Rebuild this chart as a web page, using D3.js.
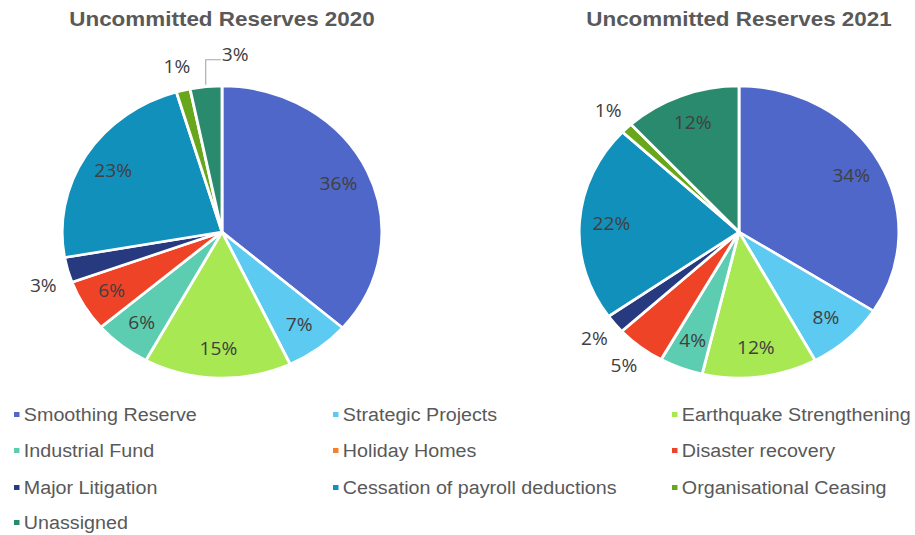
<!DOCTYPE html>
<html>
<head>
<meta charset="utf-8">
<script src="https://cdn.jsdelivr.net/npm/d3@7"></script>
<style>
  html, body { margin: 0; padding: 0; background: #fff; }
  svg { display: block; }
</style>
</head>
<body>
<div id="chart"></div>
<script>
const categories = [
  "Smoothing Reserve", "Strategic Projects", "Earthquake Strengthening",
  "Industrial Fund", "Holiday Homes", "Disaster recovery",
  "Major Litigation", "Cessation of payroll deductions", "Organisational Ceasing",
  "Unassigned"
];
const colors = ["#4f67c8", "#5ccaf1", "#a8e853", "#5dcdb1", "#f5802a", "#ee4326",
                "#273a80", "#1190bc", "#68a61c", "#2a8a6e"];

const values2020 = [36.4, 6.6, 14.9, 5.8, 0, 5.7, 2.8, 23.2, 1.4, 3.2];
const values2021 = [34.1, 8.0, 11.6, 4.4, 0, 5.0, 2.1, 21.8, 1.2, 11.8];

const titles = ["Uncommitted Reserves 2020", "Uncommitted Reserves 2021"];

// which slice labels sit outside the pie
const outside2020 = ["Major Litigation", "Organisational Ceasing", "Unassigned"];
const outside2021 = ["Disaster recovery", "Major Litigation", "Organisational Ceasing"];

const W = 915, H = 535;
const sx = 1.095;              // the picture is a bit wider than tall

const svg = d3.select("#chart").append("svg").attr("width", W).attr("height", H);
const root = svg.append("g").attr("transform", `scale(${sx},1)`);

const R = 146;
const arc = d3.arc().innerRadius(0).outerRadius(R);
const pie = d3.pie().sort(null).value(d => d.v);

function drawPie(cx, title, values, outsideList, nudges, leaders) {
  const g = root.append("g").attr("transform", `translate(${cx},232)`);
  const data = pie(categories.map((c, i) => ({ c, v: values[i], color: colors[i] })));

  g.selectAll("path.slice")
    .data(data.filter(d => d.data.v > 0))
    .join("path")
      .attr("class", "slice")
      .attr("d", arc)
      .attr("fill", d => d.data.color)
      .attr("stroke", "#fff")
      .attr("stroke-width", 2.6)
      .attr("stroke-linejoin", "round");

  const inArc = d3.arc().innerRadius(R * 0.8).outerRadius(R * 0.8);
  const outArc = d3.arc().innerRadius(R * 1.165).outerRadius(R * 1.165);

  const labels = data.filter(d => d.data.v > 0).map(d => {
    const out = outsideList.includes(d.data.c);
    const [x, y] = (out ? outArc : inArc).centroid(d);
    const n = nudges[d.data.c] || [0, 0];
    return { d, x: x + n[0], y: y + n[1], text: Math.round(d.data.v) + "%", lead: leaders.includes(d.data.c) };
  });

  g.selectAll("path.leader")
    .data(labels.filter(l => l.lead))
    .join("path")
      .attr("class", "leader")
      .attr("fill", "none")
      .attr("stroke", "#a6a6a6")
      .attr("stroke-width", 1)
      .attr("d", l => {
        const a = (l.d.startAngle + l.d.endAngle) / 2;
        const ax = Math.sin(a) * (R + 2), ay = -Math.cos(a) * (R + 2);
        return `M${ax},${ay}V${l.y + 5}H${l.x - 13}`;
      });

  g.selectAll("text.pct")
    .data(labels)
    .join("text")
      .attr("class", "pct")
      .attr("x", l => l.x)
      .attr("y", l => l.y)
      .attr("dy", "0.36em")
      .attr("text-anchor", "middle")
      .style("font-family", "'Open Sans', 'Noto Sans', sans-serif")
      .style("font-size", "17.5px")
      .style("fill", "#404040")
      .text(l => l.text);

  root.append("text")
    .attr("x", cx)
    .attr("y", 26)
    .attr("text-anchor", "middle")
    .style("font-family", "'Liberation Sans', Arial, sans-serif")
    .style("font-weight", "bold")
    .style("font-size", "20.5px")
    .style("fill", "#595959")
    .text(title);
}

drawPie(222 / sx, titles[0], values2020, outside2020,
  { "Unassigned": [29, -8], "Major Litigation": [1, 9] }, ["Unassigned"]);
drawPie(739 / sx, titles[1], values2021, outside2021, {}, []);

// legend
const colX = [14 / sx, 333 / sx, 672 / sx];
const rowY = [415, 451, 488, 523];
const legend = root.append("g").attr("class", "legend");
const items = legend.selectAll("g")
  .data(categories.map((c, i) => ({ c, color: colors[i], col: i % 3, row: Math.floor(i / 3) })))
  .join("g")
    .attr("transform", d => `translate(${colX[d.col]},${rowY[d.row]})`);
items.append("rect")
  .attr("x", 0).attr("y", -3)
  .attr("width", 5).attr("height", 5)
  .attr("fill", d => d.color);
items.append("text")
  .attr("x", 9)
  .attr("y", 0)
  .attr("dy", "0.36em")
  .style("font-family", "'Liberation Sans', Arial, sans-serif")
  .style("font-size", "18px")
  .style("fill", "#595959")
  .text(d => d.c);
</script>
</body>
</html>
